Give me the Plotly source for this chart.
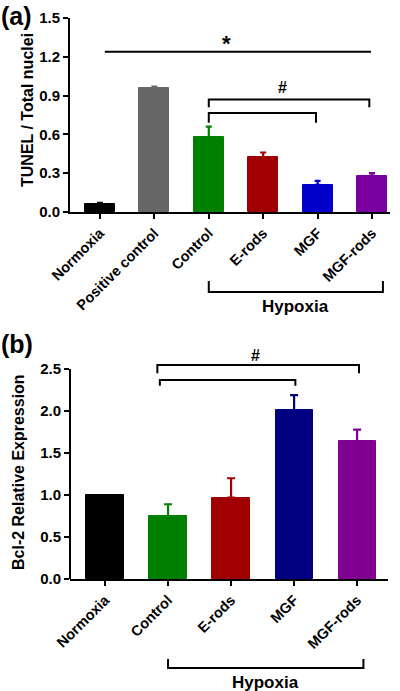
import plotly.graph_objects as go

# ---------- data ----------
cats_a = ["Normoxia", "Positive control", "Control", "E-rods", "MGF", "MGF-rods"]
vals_a = [0.06, 0.96, 0.58, 0.425, 0.21, 0.28]
err_a = [0.01, 0.01, 0.08, 0.035, 0.03, 0.02]
colors_a = ["#000000", "#666666", "#008000", "#a00000", "#0000cc", "#7a00a0"]
yticks_a = [0.0, 0.3, 0.6, 0.9, 1.2, 1.5]

cats_b = ["Normoxia", "Control", "E-rods", "MGF", "MGF-rods"]
vals_b = [1.0, 0.75, 0.97, 2.01, 1.64]
err_b = [0.0, 0.14, 0.23, 0.18, 0.14]
colors_b = ["#000000", "#008000", "#a00000", "#000080", "#800090"]
yticks_b = [0.0, 0.5, 1.0, 1.5, 2.0, 2.5]

W, H = 400, 691
FONT = "Liberation Sans, Arial, sans-serif"

def py(px):
    return (H - px) / H

fig = go.Figure()

fig.add_trace(go.Bar(
    x=list(range(len(cats_a))), y=vals_a, width=0.55,
    marker=dict(color=colors_a, line=dict(color=colors_a, width=1)),
    xaxis="x", yaxis="y", showlegend=False))

fig.add_trace(go.Bar(
    x=list(range(len(cats_b))), y=vals_b, width=0.59,
    marker=dict(color=colors_b, line=dict(color=colors_b, width=1)),
    xaxis="x2", yaxis="y2", showlegend=False))

# coloured upper-only error bars
for i, (v, e, c) in enumerate(zip(vals_a, err_a, colors_a)):
    fig.add_trace(go.Scatter(x=[i], y=[v], mode="markers", marker=dict(size=1, color=c, opacity=0),
                             error_y=dict(type="data", array=[e], arrayminus=[0], symmetric=False,
                                          color=c, thickness=2.2, width=3),
                             xaxis="x", yaxis="y", showlegend=False, hoverinfo="skip"))
for i, (v, e, c) in enumerate(zip(vals_b, err_b, colors_b)):
    if e > 0:
        fig.add_trace(go.Scatter(x=[i], y=[v], mode="markers", marker=dict(size=1, color=c, opacity=0),
                                 error_y=dict(type="data", array=[e], arrayminus=[0], symmetric=False,
                                              color=c, thickness=2.2, width=4),
                                 xaxis="x2", yaxis="y2", showlegend=False, hoverinfo="skip"))

xtickfont = dict(family=FONT, size=14.5, color="#000000")
ytickfont = dict(family=FONT, size=15, color="#000000")
axis_common = dict(showgrid=False, zeroline=False, linecolor="#000000", linewidth=2,
                   ticks="outside", ticklen=5, tickwidth=2, tickcolor="#000000",
                   automargin=False)

fig.update_layout(
    template="none",
    width=W, height=H, margin=dict(l=0, r=0, t=0, b=0, pad=0),
    paper_bgcolor="white", plot_bgcolor="white",
    font=dict(family=FONT, color="#000000"),
    bargap=0,
    xaxis=dict(domain=[70 / W, 390 / W], range=[-0.55, 5.33], showline=True,
               tickvals=list(range(len(cats_a))), ticktext=[f"<b>{c}</b>" for c in cats_a],
               tickangle=-45, anchor="y", tickfont=xtickfont, **axis_common),
    yaxis=dict(domain=[py(212), py(18)], range=[0, 1.5], showline=True,
               tickvals=yticks_a, ticktext=[f"<b>{v:.1f}</b>" for v in yticks_a],
               anchor="x", tickfont=ytickfont, **axis_common),
    xaxis2=dict(domain=[70 / W, 388 / W], range=[-0.556, 4.49], showline=True,
                tickvals=list(range(len(cats_b))), ticktext=[f"<b>{c}</b>" for c in cats_b],
                tickangle=-45, anchor="y2", tickfont=xtickfont, **axis_common),
    yaxis2=dict(domain=[py(579), py(359)], range=[0, 2.62], showline=False,
                tickvals=yticks_b, ticktext=[f"<b>{v:.1f}</b>" for v in yticks_b],
                anchor="x2", tickfont=ytickfont, **axis_common),
)

shapes = []
line = dict(color="#000000", width=2)

def bracket(xref, yref, x0, x1, ytop, ybot0, ybot1):
    shapes.append(dict(type="path", xref=xref, yref=yref, line=line,
                       path=f"M {x0},{ybot0} L {x0},{ytop} L {x1},{ytop} L {x1},{ybot1}"))

# y-axis line for panel (b)
shapes.append(dict(type="line", xref="x2 domain", yref="y2", x0=0, x1=0, y0=0, y1=2.5, line=line))

# panel (a) statistics
shapes.append(dict(type="line", xref="x", yref="y", x0=0.09, x1=4.98, y0=1.24, y1=1.24, line=line))
bracket("x", "y", 2.0, 4.95, 0.87, 0.81, 0.81)
bracket("x", "y", 2.0, 3.97, 0.765, 0.69, 0.69)
# panel (a) hypoxia bracket
shapes.append(dict(type="path", xref="x", yref="paper", line=line,
                   path=f"M 2,{py(281)} L 2,{py(292)} L 5.2,{py(292)} L 5.2,{py(281)}"))

# panel (b) statistics
bracket("x2", "y2", 0.83, 4.03, 2.55, 2.45, 2.45)
bracket("x2", "y2", 0.87, 3.02, 2.37, 2.30, 2.30)
# panel (b) hypoxia bracket
shapes.append(dict(type="path", xref="x2", yref="paper", line=line,
                   path=f"M 1,{py(659)} L 1,{py(668)} L 4.1,{py(668)} L 4.1,{py(659)}"))

fig.update_layout(shapes=shapes)

def A(text, xref, yref, x, y, size, angle=0, xa="center", ya="middle"):
    return dict(text=text, xref=xref, yref=yref, x=x, y=y, xanchor=xa, yanchor=ya,
                textangle=angle, showarrow=False, font=dict(size=size, family=FONT),
                borderpad=0)

ann = [
    A("<b>(a)</b>", "paper", "paper", 0, py(1), 25, xa="left", ya="top"),
    A("<b>(b)</b>", "paper", "paper", 0, py(329), 25, xa="left", ya="top"),
    A("<b>TUNEL / Total nuclei</b>", "paper", "paper", 27 / W, py(110), 16, angle=-90),
    A("<b>Bcl-2 Relative Expression</b>", "paper", "paper", 18 / W, py(472), 16, angle=-90),
    A("<b>*</b>", "x", "y", 2.33, 1.30, 22),
    A("<b>#</b>", "x", "y", 3.36, 0.96, 16),
    A("<b>#</b>", "x2", "paper", 2.38, py(355), 16),
    A("<b>Hypoxia</b>", "x", "paper", 3.6, py(307), 17),
    A("<b>Hypoxia</b>", "x2", "paper", 2.54, py(682), 17),
]
fig.update_layout(annotations=ann)

fig.write_html("out.html", config={"displayModeBar": False},
               post_script="document.body.style.margin='0';document.body.style.padding='0';")
